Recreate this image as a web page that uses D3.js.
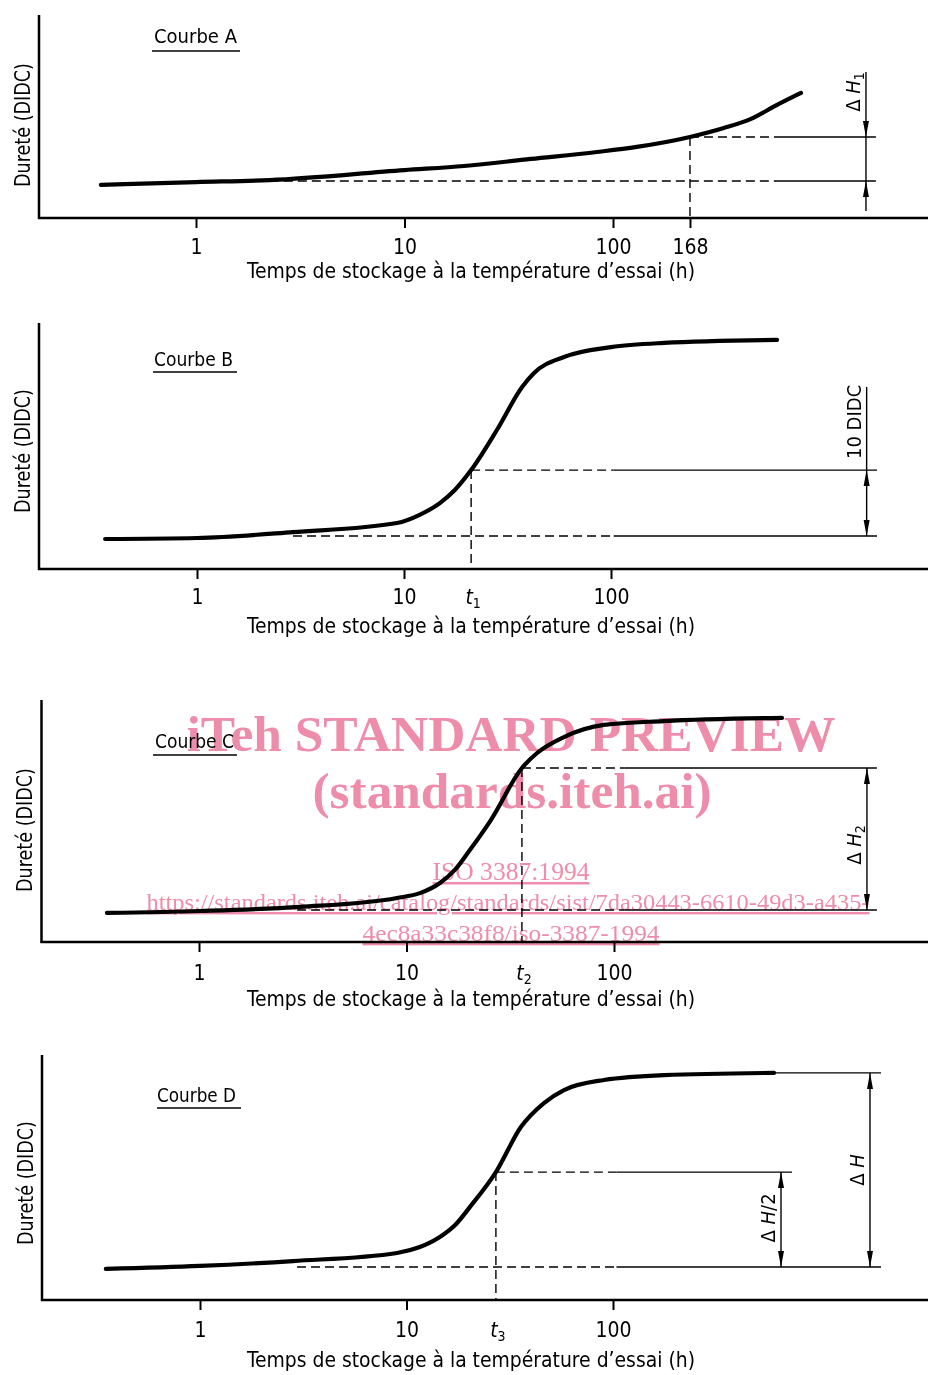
<!DOCTYPE html>
<html>
<head>
<meta charset="utf-8">
<script src="https://cdn.jsdelivr.net/npm/d3@7"></script>
<style>
  body { margin: 0; background: #fff; }
  svg { display: block; }
  text { font-family: "Liberation Sans Narrow", "DejaVu Sans Condensed", "DejaVu Sans", sans-serif; fill: #000; }
  .wm { font-family: "Liberation Serif", "Times New Roman", serif; fill: #ee8dab; mix-blend-mode: multiply; }
</style>
</head>
<body>
<svg id="chart" width="928" height="1375"></svg>
<script>
//----------------------
// DATA (time in hours, hardness on a 0-100 relative scale)
//----------------------
var xTickValues = [1, 10, 100];
var xTickLabels = ["1", "10", "100"];

var xTitle = "Temps de stockage à la température d’essai (h)";
var yTitle = "Dureté (DIDC)";
var curveNames = ["Courbe A", "Courbe B", "Courbe C", "Courbe D"];

// curve A
var hoursA = [0.35, 1.0, 2.26, 10, 19.3, 40.4, 83.8, 130, 234, 340, 459, 612, 797];
var hardA = [16.3, 17.7, 18.7, 23.6, 25.6, 29.1, 32.5, 35.0, 39.9, 44.3, 48.8, 55.7, 61.6];
// the "168" mark sits where the figure draws it
var markA = 234;
var markLabelA = "168";

// curve B
var hoursB = [0.36, 1.0, 2.91, 9.25, 11.9, 14.9, 17.6, 21.1, 28.1, 37.2, 42.5, 59.3, 100, 180, 634];
var hardB = [12.2, 12.6, 15.0, 18.7, 22.0, 26.8, 32.1, 40.2, 56.5, 74.0, 79.7, 86.2, 90.2, 91.9, 93.1];
var t1 = 21.1;

// curve C
var hoursC = [0.36, 1.01, 3.07, 9.0, 11.6, 14.5, 17.1, 20.2, 25.5, 36.0, 42.6, 57.4, 89.5, 174, 645];
var hardC = [12.0, 12.8, 14.5, 18.2, 20.2, 24.4, 29.8, 38.0, 50.4, 71.9, 78.1, 84.7, 89.7, 91.3, 92.6];
var t2 = 36.0;

// curve D
var hoursD = [0.35, 1.0, 2.82, 9.0, 11.6, 14.5, 17.2, 20.3, 27.1, 35.8, 46.3, 57.9, 90.4, 177, 602];
var hardD = [12.7, 13.9, 15.9, 19.2, 21.6, 25.7, 30.6, 38.0, 52.2, 70.6, 80.4, 85.7, 89.8, 91.8, 92.7];
var t3 = 27.1;

// reference levels: [level, dashed from (h), dashed until (h), solid until (h)]
var levelsA = [[18.2, 2.26, 612, 1824], [39.9, markA, 612, 1824]];
var levelsB = [[13.4, 2.91, 103, 1928], [40.2, t1, 103, 1928]];
var levelsC = [[13.2, 2.97, 112, 1849], [71.9, t2, 112, 1849]];
var levelsD = [[13.5, 2.95, 104, 1985], [52.2, t3, 104, 736], [92.7, 602, 602, 1985]];

//----------------------
// LAYOUT
//----------------------
var panels = [
  { hours: hoursA, hard: hardA, levels: levelsA, name: curveNames[0],
    left: 39, top: 15, axisY: 218, px1: 196, px100: 613, pad: 11, titleY: 278, yLabX: 30, yLabY: 125,
    nameX: 154, nameY: 43, ulY: 51, ul: [152, 240],
    extraTicks: [markA], extraLabels: [markLabelA], vline: [markA, 39.9],
    dims: [{ t: 1634, v0: 18.2, v1: 39.9, lo: 3.4, hi: 71.9, inward: true }],
    dimLabels: [{ t: 1634, v: 62.1, parts: [["Δ ", ""], ["H", "italic"], ["1", "sub"]] }] },
  { hours: hoursB, hard: hardB, levels: levelsB, name: curveNames[1],
    left: 39, top: 323, axisY: 569, px1: 197, px100: 611, pad: 10, titleY: 633, yLabX: 30, yLabY: 451,
    nameX: 154, nameY: 366, ulY: 372, ul: [153, 237],
    tMark: [t1, "1"], vline: [t1, 40.2],
    dims: [{ t: 1718, v0: 13.4, v1: 40.2, lo: 13.4, hi: 74.0, inward: false }],
    dimLabels: [{ t: 1718, v: 59.8, parts: [["10 DIDC", ""]] }] },
  { hours: hoursC, hard: hardC, levels: levelsC, name: curveNames[2],
    left: 41.5, top: 700, axisY: 942, px1: 199, px100: 614, pad: 13, titleY: 1006, yLabX: 32, yLabY: 830,
    nameX: 155, nameY: 748, ulY: 755, ul: [153, 237],
    tMark: [t2, "2"], vline: [t2, 71.9],
    dims: [{ t: 1656, v0: 13.2, v1: 71.9, lo: 13.2, hi: 71.9, inward: false }],
    dimLabels: [{ t: 1656, v: 40.1, parts: [["Δ ", ""], ["H", "italic"], ["2", "sub"]] }] },
  { hours: hoursD, hard: hardD, levels: levelsD, name: curveNames[3],
    left: 42, top: 1055, axisY: 1300, px1: 200, px100: 613, pad: 12, titleY: 1367, yLabX: 33, yLabY: 1183,
    nameX: 157, nameY: 1102, ulY: 1108, ul: [157, 241],
    tMark: [t3, "3"], vline: [t3, 52.2],
    dims: [{ t: 651, v0: 13.5, v1: 52.2, lo: 13.5, hi: 52.2, inward: false },
           { t: 1756, v0: 13.5, v1: 92.7, lo: 13.5, hi: 92.7, inward: false }],
    dimLabels: [{ t: 651, v: 33.5, parts: [["Δ ", ""], ["H", "italic"], ["/2", ""]] },
                { t: 1756, v: 53.1, parts: [["Δ ", ""], ["H", "italic"]] }] }
];

var svg = d3.select("#chart");
var W = 928;

panels.forEach(drawPanel);
drawWatermark();

/*----------------------
ONE PANEL
----------------------*/
function drawPanel(p) {
  var g = svg.append("g");
  var x = d3.scaleLog().domain([1, 100]).range([p.px1, p.px100]);
  var y = d3.scaleLinear().domain([0, 100]).range([p.axisY, p.top]);

  // axes lines
  g.append("line").attr("x1", p.left).attr("x2", p.left).attr("y1", p.top).attr("y2", p.axisY + 1)
    .attr("stroke", "#000").attr("stroke-width", 2.5);
  g.append("line").attr("x1", p.left - 1).attr("x2", W).attr("y1", p.axisY).attr("y2", p.axisY)
    .attr("stroke", "#000").attr("stroke-width", 2.5);

  // ticks
  var tv = xTickValues.concat(p.extraTicks || []);
  var tl = xTickLabels.concat(p.extraLabels || []);
  var ax = g.append("g").attr("transform", `translate(0,${p.axisY})`)
    .call(d3.axisBottom(x).tickValues(tv).tickFormat((d, i) => tl[i]).tickSize(10).tickPadding(p.pad));
  ax.select(".domain").remove();
  ax.selectAll(".tick line").attr("stroke-width", 2);
  ax.selectAll(".tick text").attr("font-size", 21).attr("fill", "#000")
    .style("font-family", "'Liberation Sans Narrow', 'DejaVu Sans Condensed', 'DejaVu Sans', sans-serif");

  // t_n label under the axis
  if (p.tMark) {
    var tt = g.append("text")
      .attr("x", x(p.tMark[0]) + 2)
      .attr("y", p.axisY + 10 + p.pad + 15)
      .attr("text-anchor", "middle")
      .attr("font-size", 21);
    tt.append("tspan").attr("font-style", "italic").text("t");
    tt.append("tspan").attr("font-size", 14).attr("dy", 4).text(p.tMark[1]);
  }

  // axis titles
  g.append("text").attr("x", 471).attr("y", p.titleY).attr("text-anchor", "middle")
    .attr("font-size", 21).attr("textLength", 448).attr("lengthAdjust", "spacingAndGlyphs")
    .text(xTitle);
  g.append("text").attr("transform", `translate(${p.yLabX},${p.yLabY}) rotate(-90)`)
    .attr("text-anchor", "middle").attr("font-size", 21)
    .attr("textLength", 124).attr("lengthAdjust", "spacingAndGlyphs")
    .text(yTitle);

  // curve name, underlined
  g.append("text").attr("x", p.nameX).attr("y", p.nameY).attr("font-size", 20)
    .attr("textLength", p.ul[1] - p.ul[0] - 5).attr("lengthAdjust", "spacingAndGlyphs")
    .text(p.name);
  g.append("line").attr("x1", p.ul[0]).attr("x2", p.ul[1]).attr("y1", p.ulY).attr("y2", p.ulY)
    .attr("stroke", "#000").attr("stroke-width", 1.6);

  // reference levels
  p.levels.forEach(function (l) {
    if (l[2] > l[1]) {
      g.append("line").attr("x1", x(l[1])).attr("x2", x(l[2])).attr("y1", y(l[0])).attr("y2", y(l[0]))
        .attr("stroke", "#000").attr("stroke-width", 1.4).attr("stroke-dasharray", "9,5");
    }
    g.append("line").attr("x1", x(l[2])).attr("x2", x(l[3])).attr("y1", y(l[0])).attr("y2", y(l[0]))
      .attr("stroke", "#000").attr("stroke-width", 1.4);
  });

  // vertical dashed line down to the axis
  g.append("line").attr("x1", x(p.vline[0])).attr("x2", x(p.vline[0]))
    .attr("y1", y(p.vline[1])).attr("y2", p.axisY)
    .attr("stroke", "#000").attr("stroke-width", 1.4).attr("stroke-dasharray", "9,5");

  // dimension lines with arrows
  p.dims.forEach(function (d) {
    var xx = x(d.t);
    g.append("line").attr("x1", xx).attr("x2", xx).attr("y1", y(d.lo)).attr("y2", y(d.hi))
      .attr("stroke", "#000").attr("stroke-width", 1.4);
    if (d.inward) {
      arrow(g, xx, y(d.v1), 1);   // from above, pointing down
      arrow(g, xx, y(d.v0), -1);  // from below, pointing up
    } else {
      arrow(g, xx, y(d.v1), -1);  // inside, pointing up
      arrow(g, xx, y(d.v0), 1);   // inside, pointing down
    }
  });

  p.dimLabels.forEach(function (d) {
    var t = g.append("text")
      .attr("transform", `translate(${x(d.t) - 6},${y(d.v)}) rotate(-90)`)
      .attr("text-anchor", "middle").attr("font-size", 20);
    d.parts.forEach(function (pt) {
      var s = t.append("tspan").text(pt[0]);
      if (pt[1] === "italic") s.attr("font-style", "italic");
      if (pt[1] === "sub") s.attr("font-size", 14).attr("dy", 4);
    });
  });

  // the curve
  var line = d3.line()
    .x(d => x(d[0]))
    .y(d => y(d[1]))
    .curve(d3.curveMonotoneX);
  g.append("path").datum(d3.zip(p.hours, p.hard))
    .attr("d", line).attr("fill", "none").attr("stroke", "#000")
    .attr("stroke-width", 4.2).attr("stroke-linecap", "round");
}

// filled narrow arrow head, tip at (x,yt); dir -1 = body below tip (points up), 1 = body above (points down)
function arrow(g, x, yt, dir) {
  var b = yt - dir * 16;
  g.append("path")
    .attr("d", `M${x},${yt}L${x - 3},${b}L${x + 3},${b}Z`)
    .attr("fill", "#000");
}

/*----------------------
WATERMARK
----------------------*/
function drawWatermark() {
  var wm = svg.append("g");
  wm.append("text").attr("class", "wm").attr("x", 511).attr("y", 751).attr("text-anchor", "middle")
    .attr("font-size", 50).attr("font-weight", "bold").attr("textLength", 649).attr("lengthAdjust", "spacingAndGlyphs")
    .text("iTeh STANDARD PREVIEW");
  wm.append("text").attr("class", "wm").attr("x", 512).attr("y", 808).attr("text-anchor", "middle")
    .attr("font-size", 50).attr("font-weight", "bold").attr("textLength", 399).attr("lengthAdjust", "spacingAndGlyphs")
    .text("(standards.iteh.ai)");
  wm.append("text").attr("class", "wm").attr("x", 511).attr("y", 880).attr("text-anchor", "middle")
    .attr("font-size", 25).attr("textLength", 157).attr("lengthAdjust", "spacingAndGlyphs")
    .attr("text-decoration", "underline")
    .text("ISO 3387:1994");
  wm.append("text").attr("class", "wm").attr("x", 508).attr("y", 910).attr("text-anchor", "middle")
    .attr("font-size", 24).attr("textLength", 723).attr("lengthAdjust", "spacingAndGlyphs")
    .attr("text-decoration", "underline")
    .text("https://standards.iteh.ai/catalog/standards/sist/7da30443-6610-49d3-a435-");
  wm.append("text").attr("class", "wm").attr("x", 511).attr("y", 941).attr("text-anchor", "middle")
    .attr("font-size", 24).attr("textLength", 297).attr("lengthAdjust", "spacingAndGlyphs")
    .attr("text-decoration", "underline")
    .text("4ec8a33c38f8/iso-3387-1994");
}
</script>
</body>
</html>
